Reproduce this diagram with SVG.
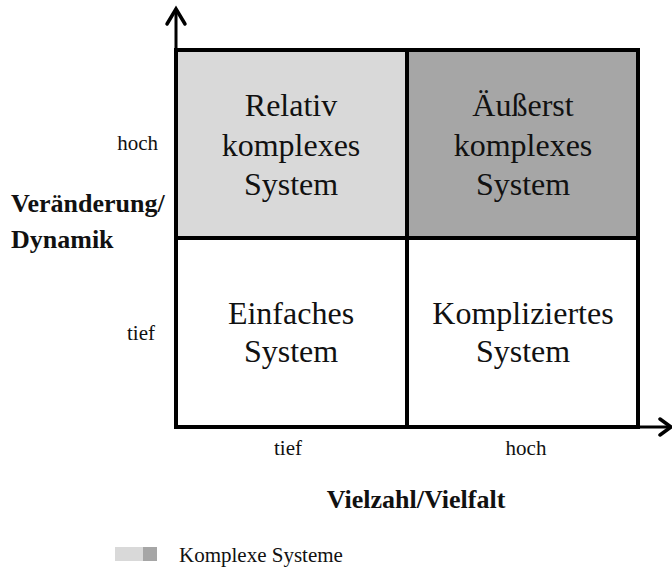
<svg xmlns="http://www.w3.org/2000/svg" width="672" height="568" viewBox="0 0 672 568">
  <style>
    .cell-text { font-family: "Liberation Serif", "Times New Roman", serif; font-size: 32px; fill: #111; text-anchor: middle; }
    .tick { font-family: "Liberation Serif", "Times New Roman", serif; font-size: 21px; fill: #111; }
    .axis-title { font-family: "Liberation Serif", "Times New Roman", serif; font-size: 26px; font-weight: bold; fill: #111; }
    .grid { stroke: #000; stroke-width: 4; fill: none; }
    .axis { stroke: #000; stroke-width: 3; fill: none; }
    .head { stroke: #000; stroke-width: 3.5; fill: none; stroke-linecap: round; stroke-linejoin: miter; }
  </style>

  <!-- quadrants -->
  <g id="cell-relativ">
    <rect x="176" y="50" width="231" height="188" fill="#d9d9d9"/>
    <text class="cell-text" x="291" y="116">Relativ</text>
    <text class="cell-text" x="291" y="156">komplexes</text>
    <text class="cell-text" x="291" y="195">System</text>
  </g>
  <g id="cell-aeusserst">
    <rect x="407" y="50" width="231" height="188" fill="#a6a6a6"/>
    <text class="cell-text" x="523" y="116">Äußerst</text>
    <text class="cell-text" x="523" y="156">komplexes</text>
    <text class="cell-text" x="523" y="195">System</text>
  </g>
  <g id="cell-einfach">
    <text class="cell-text" x="291" y="324">Einfaches</text>
    <text class="cell-text" x="291" y="362">System</text>
  </g>
  <g id="cell-kompliziert">
    <text class="cell-text" x="523" y="324">Kompliziertes</text>
    <text class="cell-text" x="523" y="362">System</text>
  </g>

  <!-- axes and grid lines -->
  <g id="connectors">
    <line class="axis" x1="176" y1="10" x2="176" y2="427"/>
    <polyline class="head" points="167,24 176,9 185,24"/>
    <line class="axis" x1="176" y1="427" x2="669" y2="427"/>
    <polyline class="head" points="660,419 671,427 660,435"/>
    <rect class="grid" x="176" y="50" width="462" height="377"/>
    <line class="grid" x1="407" y1="50" x2="407" y2="427"/>
    <line class="grid" x1="176" y1="238" x2="638" y2="238"/>
  </g>

  <!-- axis labels -->
  <g id="labels">
    <text class="tick" x="158" y="150" text-anchor="end">hoch</text>
    <text class="tick" x="155" y="340" text-anchor="end">tief</text>
    <text class="tick" x="288" y="455" text-anchor="middle">tief</text>
    <text class="tick" x="526" y="455" text-anchor="middle">hoch</text>
    <text class="axis-title" x="11" y="212">Veränderung/</text>
    <text class="axis-title" x="11" y="248">Dynamik</text>
    <text class="axis-title" x="416" y="508" text-anchor="middle" font-size="25.5">Vielzahl/Vielfalt</text>
  </g>

  <!-- legend -->
  <g id="legend">
    <rect x="115" y="547" width="28" height="14" fill="#d9d9d9"/>
    <rect x="143" y="547" width="14" height="14" fill="#a6a6a6"/>
    <text class="tick" x="179" y="562" font-size="22">Komplexe Systeme</text>
  </g>
</svg>
